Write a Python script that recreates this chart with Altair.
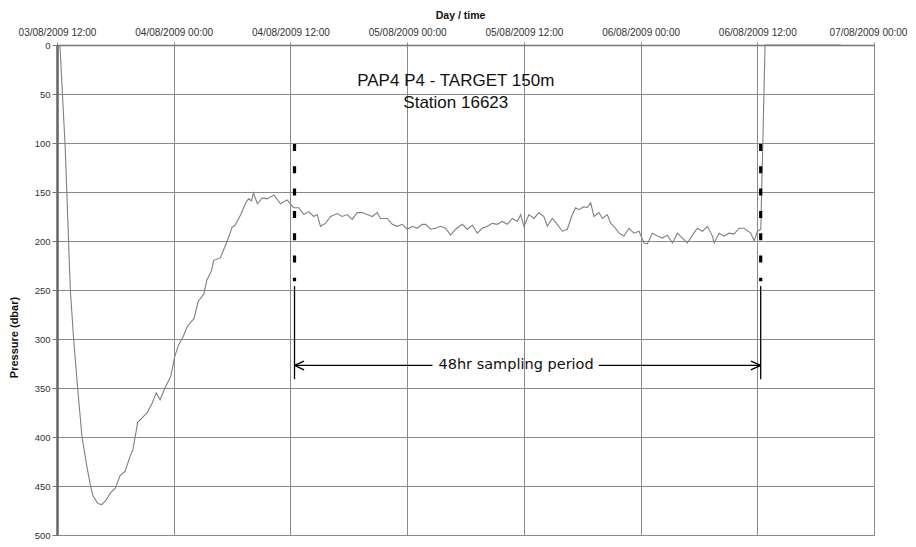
import altair as alt
import pandas as pd

# ---------------- data (hours since 03/08/2009 12:00, pressure dbar) ----------------
hours = [0.3, 0.85, 1.37, 1.71, 2.12, 2.57, 3.09, 3.43, 3.7, 4.2, 4.6, 5.0, 5.5, 6.0, 6.5, 7.0,
         7.5, 7.8, 8.3, 8.7, 9.3, 9.8, 10.2, 10.6, 11.1, 11.7, 12.1, 12.5, 13.0, 13.4, 14.1,
         14.5, 15.1, 15.4, 15.9, 16.1, 16.8, 17.5, 18.0, 18.3, 18.9, 19.4, 19.7, 20.0, 20.2,
         20.6, 21.1, 21.6, 22.3,
         22.97, 23.66, 24.34, 24.86, 25.37, 25.89, 26.40, 26.75, 27.09, 27.60, 28.12, 28.81,
         29.32, 29.84, 30.35, 30.86, 31.38, 31.89, 32.41, 32.92, 33.26, 33.95, 34.47, 34.98,
         35.49, 36.01, 36.52, 37.04, 37.55, 37.89, 38.41, 38.92, 39.44, 39.95, 40.47, 40.98,
         41.67, 42.18, 42.70, 43.21, 43.72, 44.24, 44.75, 45.27, 45.78, 46.30, 46.81, 47.33,
         47.67, 48.01, 48.52, 49.03, 49.55, 50.06, 50.41, 50.92, 51.44, 51.95, 52.47, 52.98,
         53.32, 53.67, 54.18, 54.52, 54.87, 55.21, 55.72, 56.07, 56.58, 56.93, 57.27, 57.78,
         58.30, 58.81, 59.32, 59.84, 60.35, 60.70, 61.21, 61.73, 62.24, 62.76, 63.27, 63.79,
         64.30, 64.81, 65.33, 65.84, 66.36, 66.87, 67.39, 67.56, 68.07, 68.58, 69.10, 69.61,
         70.13, 70.64, 71.33, 71.67, 72.02, 72.36, 72.8, 80.6]
pressure = [0, 106, 250, 300, 350, 400, 431, 449, 460, 468, 469, 465, 457, 452, 439, 435,
            420, 413, 385, 381, 375, 365, 355, 362, 350, 338, 318, 306, 297, 287, 279,
            262, 254, 240, 230, 220, 217, 200, 186, 184, 173, 161, 157, 159, 151,
            162, 156, 157, 153,
            162, 158, 166, 166, 173, 170, 175, 173, 185, 182, 175, 172,
            175, 173, 178, 171, 171, 173, 175, 171, 177, 177, 183, 185,
            183, 188, 185, 187, 183, 183, 188, 187, 185, 187, 194, 188,
            183, 188, 184, 192, 187, 185, 182, 183, 180, 183, 177, 180,
            173, 185, 173, 177, 171, 175, 185, 177, 183, 190, 188, 173,
            166, 168, 165, 166, 161, 175, 171, 177, 173, 182, 185, 192,
            195, 187, 192, 190, 202, 203, 192, 195, 197, 194, 202, 192,
            197, 202, 194, 187, 190, 185, 195, 202, 192, 195, 192, 193,
            187, 187, 192, 200, 190, 188, 0, 0]

tick_hours = [0, 12, 24, 36, 48, 60, 72, 84]
y_ticks = [0, 50, 100, 150, 200, 250, 300, 350, 400, 450, 500]

chart_title = ["PAP4 P4 - TARGET 150m", "Station 16623"]
period_label = "48hr sampling period"
period_start_h = 24.42
period_end_h = 72.35

BASE = pd.Timestamp("2009-08-03 12:00")


def ts(h):
    return (BASE + pd.Timedelta(hours=h)).strftime("%Y-%m-%dT%H:%M:%S")


df = pd.DataFrame({"time": [ts(h) for h in hours], "p": pressure})

x_scale = alt.Scale(domain=[ts(0), ts(84)])
y_scale = alt.Scale(domain=[0, 500], reverse=True, nice=False)

x_axis = alt.Axis(
    orient="top", title="Day / time", values=[ts(h) for h in tick_hours],
    format="%d/%m/%Y %H:%M", labelFontSize=10, labelColor="#333", labelFont="Liberation Sans",
    labelPadding=5, tickSize=3, tickColor="#888", domainColor="#777", domainWidth=1.5,
    gridColor="#8a8a8a", gridWidth=1, titleFont="Liberation Sans", titleFontSize=10.5,
    titleFontWeight="bold", titleColor="#111", titlePadding=7, labelFlush=False,
    titleX=403, titleAlign="center",
    labelOffset={"condition": {"test": "datum.label == '07/08/2009 00:00'", "value": -6},
                 "value": 0},
)
y_axis = alt.Axis(
    title="Pressure (dbar)", values=y_ticks, labelFontSize=9.5, labelColor="#333",
    labelFont="Liberation Sans", labelPadding=2, tickSize=5, tickColor="#777",
    domainColor="#666", domainWidth=2.5, gridColor="#8a8a8a", gridWidth=1,
    titleFont="Liberation Sans", titleFontSize=11, titleFontWeight="bold", titleColor="#111",
    titleX=-38, titleY=292, titleAlign="center",
)

X = lambda f="time": alt.X(f"{f}:T", scale=x_scale, axis=x_axis, title="Day / time")
Y = lambda f="p": alt.Y(f"{f}:Q", scale=y_scale, axis=y_axis, title="Pressure (dbar)")

line = alt.Chart(df).mark_line(color="#808080", strokeWidth=1.1).encode(x=X(), y=Y())

# dashed vertical markers
dash_df = pd.DataFrame({"time": [ts(period_start_h), ts(period_end_h)],
                        "p": [101, 101], "p2": [241, 241]})
dashes = alt.Chart(dash_df).mark_rule(color="black", strokeWidth=3.2, strokeDash=[7, 15.3]).encode(
    x=X(), y=Y(), y2="p2:Q")

# solid vertical lines under dashes
solid_df = pd.DataFrame({"time": [ts(period_start_h), ts(period_end_h)],
                         "p": [246, 246], "p2": [341, 341]})
solids = alt.Chart(solid_df).mark_rule(color="black", strokeWidth=1.3).encode(
    x=X(), y=Y(), y2="p2:Q")

# arrow shaft and heads
arrow_p = 327
seg_df = pd.DataFrame({
    "time": [ts(period_start_h), ts(55.7), ts(period_start_h), ts(period_start_h),
             ts(period_end_h), ts(period_end_h)],
    "time2": [ts(38.6), ts(period_end_h), ts(25.4), ts(25.4), ts(71.35), ts(71.35)],
    "p": [arrow_p, arrow_p, arrow_p, arrow_p, arrow_p, arrow_p],
    "p2": [arrow_p, arrow_p, arrow_p - 4.5, arrow_p + 4.5, arrow_p - 4.5, arrow_p + 4.5],
})
arrows = alt.Chart(seg_df).mark_rule(color="black", strokeWidth=1.3).encode(
    x=X(), x2="time2:T", y=Y(), y2="p2:Q")

label_df = pd.DataFrame({"time": [ts(47.2)], "p": [arrow_p], "text": [period_label]})
label = alt.Chart(label_df).mark_text(font="DejaVu Sans", fontSize=14.5, color="#111",
                                      align="center", baseline="middle").encode(
    x=X(), y=Y(), text="text:N")

title_df = pd.DataFrame({"time": [ts(41.0), ts(41.0)], "p": [37, 59], "text": chart_title})
title = alt.Chart(title_df).mark_text(font="Liberation Sans", fontSize=17, color="#111",
                                      align="center", baseline="middle").encode(
    x=X(), y=Y(), text="text:N")

chart = alt.layer(line, dashes, solids, arrows, label, title).properties(
    width=817, height=490,
    autosize=alt.AutoSizeParams(type="none"),
    padding={"left": 49, "top": 37, "right": 34, "bottom": 4},
    background="white",
).configure_view(stroke="#888", strokeWidth=1)

chart.save("out.html", embed_options={"renderer": "svg", "actions": False})
